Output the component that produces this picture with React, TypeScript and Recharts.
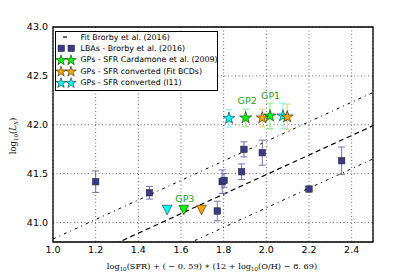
import React from 'react';
import {
  ComposedChart,
  XAxis,
  YAxis,
  CartesianGrid,
  Scatter,
  ErrorBar,
  ReferenceLine,
  ReferenceArea,
} from 'recharts';

// Fit (Brorby et al. 2016): log Lx = slope * x + intercept, +/- scatter
const fitSlope = 1.0;
const fitIntercept = 39.49;
const fitScatter = 0.34;
const fitXRange = [1.0, 2.5];

const xTicks = [1.0, 1.2, 1.4, 1.6, 1.8, 2.0, 2.2, 2.4];
const yTicks = [41.0, 41.5, 42.0, 42.5, 43.0];

// LBAs - Brorby et al. (2016)
const lbaX = [1.2, 1.452, 1.77, 1.793, 1.802, 1.884, 1.895, 1.981, 2.2, 2.353];
const lbaY = [41.417, 41.304, 41.117, 41.417, 41.43, 41.519, 41.748, 41.714, 41.342, 41.632];
const lbaErr = [0.11, 0.065, 0.1, 0.12, 0.07, 0.08, 0.077, 0.128, 0.0, 0.14];

// GPs - SFR Cardamone et al. (2009)
const cardX = [1.903, 2.017];
const cardY = [42.07, 42.09];
const cardErr = [0.09, 0.13];

// GPs - SFR converted (Fit BCDs)
const bcdX = [1.981, 2.098];
const bcdY = [42.07, 42.08];
const bcdErr = [0.09, 0.13];

// GPs - SFR converted (I11)
const i11X = [1.825, 2.078];
const i11Y = [42.065, 42.09];
const i11Err = [0.09, 0.13];

// GP3 upper limits (cyan, green, orange)
const limX = [1.535, 1.613, 1.696];
const limY = [41.127, 41.127, 41.127];
const limColors = ['#00ffff', '#00ff00', '#ffa500'];

// GP labels
const gpNames = ['GP2', 'GP1', 'GP3'];
const gpLabelX = [1.91, 2.02, 1.618];
const gpLabelY = [42.243, 42.294, 41.247];

const zip = (xs: number[], ys: number[], es?: number[]) =>
  xs.map((x, i) => ({ x, y: ys[i], err: es ? es[i] : 0 }));

const lbaData = zip(lbaX, lbaY, lbaErr);
const cardData = zip(cardX, cardY, cardErr);
const bcdData = zip(bcdX, bcdY, bcdErr);
const i11Data = zip(i11X, i11Y, i11Err);
const limData = limX.map((x, i) => ({ x, y: limY[i], color: limColors[i] }));
const labelData = gpNames.map((n, i) => ({ x: gpLabelX[i], y: gpLabelY[i], name: n }));

const fitLine = (off: number) => [
  { x: fitXRange[0], y: fitSlope * fitXRange[0] + fitIntercept + off },
  { x: fitXRange[1], y: fitSlope * fitXRange[1] + fitIntercept + off },
];

const NAVY = '#3b3a8a';

const starPoints = (cx: number, cy: number, R: number) => {
  const r = R * 0.382;
  const pts: string[] = [];
  for (let i = 0; i < 10; i++) {
    const rad = i % 2 === 0 ? R : r;
    const a = -Math.PI / 2 + (i * Math.PI) / 5;
    pts.push(`${cx + rad * Math.cos(a)},${cy + rad * Math.sin(a)}`);
  }
  return pts.join(' ');
};

const makeStar = (fill: string) => (props: any) => {
  const { cx, cy } = props;
  if (cx == null || cy == null) return <g />;
  return <polygon points={starPoints(cx, cy, 6.3)} fill={fill} stroke="#000" strokeWidth={0.5} />;
};

const Square = (props: any) => {
  const { cx, cy } = props;
  if (cx == null || cy == null) return <g />;
  const s = 6.5;
  return <rect x={cx - s / 2} y={cy - s / 2} width={s} height={s} fill={NAVY} stroke="#222" strokeWidth={0.5} />;
};

const TriDown = (props: any) => {
  const { cx, cy, payload } = props;
  if (cx == null || cy == null) return <g />;
  const w = 4.8;
  return (
    <polygon
      points={`${cx - w},${cy - w} ${cx + w},${cy - w} ${cx},${cy + w}`}
      fill={payload.color}
      stroke="#000"
      strokeWidth={0.5}
    />
  );
};

const GPLabel = (props: any) => {
  const { cx, cy, payload } = props;
  if (cx == null || cy == null) return <g />;
  return (
    <text
      x={cx}
      y={cy}
      textAnchor="middle"
      dominantBaseline="central"
      fill="#1fa01f"
      fontSize={9.5}
      fontFamily="DejaVu Sans"
    >
      {payload.name}
    </text>
  );
};

const tickStyle = { fontSize: 9.5, fontFamily: 'DejaVu Sans', fill: '#000' };

const Legend = () => {
  const rows = [
    { label: 'Fit Brorby et al. (2016)', kind: 'fit' },
    { label: 'LBAs - Brorby et al. (2016)', kind: 'sq' },
    { label: 'GPs - SFR Cardamone et al. (2009)', kind: 'star', color: '#00ff00' },
    { label: 'GPs - SFR converted (Fit BCDs)', kind: 'star', color: '#ffa500' },
    { label: 'GPs - SFR converted (I11)', kind: 'star', color: '#00ffff' },
  ];
  return (
    <svg
      width={163}
      height={60}
      style={{ position: 'absolute', left: 55, top: 31, overflow: 'visible' }}
    >
      <rect x={0.5} y={0.5} width={162} height={59} fill="#fff" stroke="#000" strokeWidth={1} />
      {rows.map((r, i) => {
        const cy = 6 + i * 11.4;
        let marker: any = null;
        if (r.kind === 'fit') {
          marker = <line x1={8} x2={12} y1={cy} y2={cy} stroke="#000" strokeWidth={1.2} />;
        } else if (r.kind === 'sq') {
          marker = (
            <g>
              <rect x={3} y={cy - 3.3} width={6.5} height={6.5} fill={NAVY} stroke="#222" strokeWidth={0.5} />
              <rect x={13} y={cy - 3.3} width={6.5} height={6.5} fill={NAVY} stroke="#222" strokeWidth={0.5} />
            </g>
          );
        } else {
          marker = (
            <g>
              <polygon points={starPoints(6, cy + 0.5, 5.5)} fill={r.color} stroke="#000" strokeWidth={0.5} />
              <polygon points={starPoints(16, cy + 0.5, 5.5)} fill={r.color} stroke="#000" strokeWidth={0.5} />
            </g>
          );
        }
        return (
          <g key={i}>
            {marker}
            <text x={25.5} y={cy} dominantBaseline="central" fontSize={7.9} fontFamily="DejaVu Sans" fill="#000">
              {r.label}
            </text>
          </g>
        );
      })}
    </svg>
  );
};

const XLabel = (props: any) => {
  const vb = props.viewBox || {};
  const cx = vb.x + vb.width / 2;
  return (
    <text
      x={cx - 1}
      y={268.5}
      textAnchor="middle"
      fontSize={8.2}
      fontFamily="DejaVu Serif"
      fill="#000"
    >
      <tspan>log</tspan>
      <tspan fontSize={5.5} dy={2}>10</tspan>
      <tspan dy={-2}>(SFR) + ( − 0. 59) ∗ (12 + log</tspan>
      <tspan fontSize={5.5} dy={2}>10</tspan>
      <tspan dy={-2}>(O/H) − 8. 69)</tspan>
    </text>
  );
};

const YLabel = () => (
  <text
    x={0}
    y={0}
    transform="translate(16,136) rotate(-90)"
    textAnchor="middle"
    fontSize={8.5}
    fontFamily="DejaVu Serif"
    fill="#000"
  >
    <tspan>log</tspan>
    <tspan fontSize={5.5} dy={2}>10</tspan>
    <tspan dy={-2}>(</tspan>
    <tspan fontStyle="italic">L</tspan>
    <tspan fontSize={5.5} fontStyle="italic" dy={2}>X</tspan>
    <tspan dy={-2}>)</tspan>
  </text>
);

export default function App() {
  return (
    <div style={{ position: 'absolute', left: 0, top: 0, width: 415, height: 277, background: '#fff' }}>
      <ComposedChart
        width={415}
        height={277}
        margin={{ top: 27, right: 42, bottom: 0, left: 0 }}
      >
        <CartesianGrid stroke="#555" strokeDasharray="1 2.5" strokeWidth={0.9} />
        <XAxis
          type="number"
          dataKey="x"
          domain={[1.0, 2.5]}
          ticks={xTicks}
          allowDataOverflow
          tickFormatter={(v: number) => v.toFixed(1)}
          tick={tickStyle}
          tickLine={false}
          axisLine={false}
          tickSize={3}
          tickMargin={1}
          height={35}
          label={<XLabel />}
        />
        <YAxis
          type="number"
          dataKey="y"
          domain={[40.8, 43.0]}
          ticks={yTicks}
          allowDataOverflow
          tickFormatter={(v: number) => v.toFixed(1)}
          tick={tickStyle}
          tickLine={false}
          axisLine={false}
          tickSize={3}
          tickMargin={2}
          width={53}
          label={<YLabel />}
        />
        <ReferenceLine
          segment={fitLine(fitScatter)}
          stroke="#000"
          strokeWidth={1}
          strokeDasharray="3 4 1 4"
          ifOverflow="hidden"
        />
        <ReferenceLine
          segment={fitLine(0)}
          stroke="#000"
          strokeWidth={1.2}
          strokeDasharray="5 3.5"
          ifOverflow="hidden"
        />
        <ReferenceLine
          segment={fitLine(-fitScatter)}
          stroke="#000"
          strokeWidth={1}
          strokeDasharray="3 4 1 4"
          ifOverflow="hidden"
        />
        <Scatter data={lbaData} shape={Square} isAnimationActive={false}>
          <ErrorBar dataKey="err" direction="y" width={3.5} stroke="#7470b8" strokeWidth={1} />
        </Scatter>
        <Scatter data={i11Data} shape={makeStar('#00ffff')} isAnimationActive={false}>
          <ErrorBar dataKey="err" direction="y" width={3.5} stroke="#8ff5f5" strokeWidth={1.2} />
        </Scatter>
        <Scatter data={cardData} shape={makeStar('#00ff00')} isAnimationActive={false}>
          <ErrorBar dataKey="err" direction="y" width={3.5} stroke="#90f090" strokeWidth={1.2} />
        </Scatter>
        <Scatter data={bcdData} shape={makeStar('#ffa500')} isAnimationActive={false}>
          <ErrorBar dataKey="err" direction="y" width={3.5} stroke="#ffd08a" strokeWidth={1.2} />
        </Scatter>
        <Scatter data={limData} shape={TriDown} isAnimationActive={false} />
        <Scatter data={labelData} shape={GPLabel} isAnimationActive={false} />
        <ReferenceArea
          x1={1.0}
          x2={2.5}
          y1={40.8}
          y2={43.0}
          fill="none"
          fillOpacity={0}
          stroke="#000"
          strokeWidth={1.3}
          ifOverflow="visible"
        />
      </ComposedChart>
      <Legend />
    </div>
  );
}
